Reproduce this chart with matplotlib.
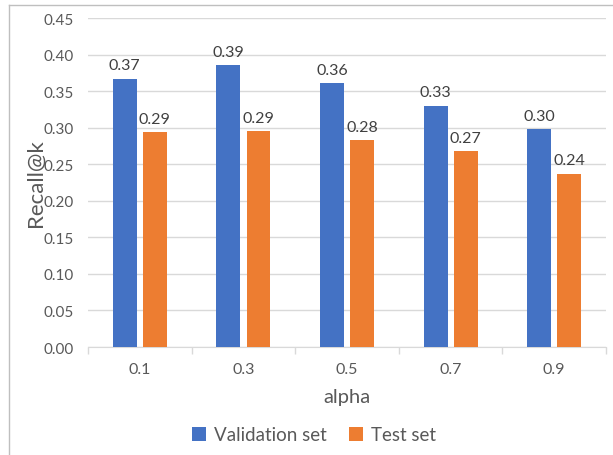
import numpy as np
import matplotlib.pyplot as plt
from matplotlib.lines import Line2D

plt.rcParams['font.family'] = ['Lato', 'DejaVu Sans']

alphas = ['0.1', '0.3', '0.5', '0.7', '0.9']
val_set = [0.367, 0.386, 0.361, 0.330, 0.298]
test_set = [0.294, 0.295, 0.283, 0.268, 0.237]
val_labels = ['0.37', '0.39', '0.36', '0.33', '0.30']
test_labels = ['0.29', '0.29', '0.28', '0.27', '0.24']

blue = '#4472C4'
orange = '#ED7D31'
txt = '#404040'

fig = plt.figure(figsize=(6.13, 4.56), dpi=100)
ax_w, ax_h = 0.845, 0.7215
ax = fig.add_axes([0.1436, 0.2368, ax_w, ax_h])

x = np.arange(len(alphas))
w = 0.23
gap = 0.03
b1 = ax.bar(x - w / 2 - gap, val_set, w, color=blue, label='Validation set', zorder=3)
b2 = ax.bar(x + w / 2 + gap, test_set, w, color=orange, label='Test set', zorder=3)

# data labels
for bars, labs in [(b1, val_labels), (b2, test_labels)]:
    for b, lab in zip(bars, labs):
        ax.annotate(lab, (b.get_x() + b.get_width() / 2, b.get_height()),
                    xytext=(0, 4.5), textcoords='offset points', ha='center', va='bottom',
                    fontsize=11.5, color=txt)

ax.set_xlim(-0.5, len(alphas) - 0.5)
ax.set_ylim(0, 0.45)
yt = np.arange(0, 0.451, 0.05)
ax.set_yticks(yt)
ax.set_yticklabels(['%.2f' % v for v in yt])
ax.yaxis.grid(True, color='#D9D9D9', linewidth=1, zorder=0)
ax.tick_params(axis='y', length=0, labelsize=11, labelcolor='#595959', pad=10)

# category labels in the middle, ticks at the boundaries
ax.set_xticks(x)
ax.set_xticklabels(alphas)
ax.tick_params(axis='x', which='major', length=0, labelsize=11.5, labelcolor='#595959', pad=11)
ax.set_xticks(np.arange(-0.5, len(alphas)), minor=True)
ax.tick_params(axis='x', which='minor', length=5, color='#D9D9D9', width=1)

for s in ['top', 'right', 'left']:
    ax.spines[s].set_visible(False)
ax.spines['bottom'].set_color('#D9D9D9')

ax.set_ylabel('Recall@k', fontsize=16, color='#595959', va='center')
ax.yaxis.set_label_coords((36 - 88) / (ax_w * 613), 0.5)
ax.set_xlabel('alpha', fontsize=14.5, color='#595959', va='center')
ax.xaxis.set_label_coords(0.5, (348 - 397) / (ax_h * 456))

fig.legend(handles=[b1, b2], loc='center', bbox_to_anchor=(314 / 613, 1 - 436 / 456), ncol=2,
           frameon=False, fontsize=13.5, labelcolor='#595959', handlelength=0.75,
           handleheight=0.75, columnspacing=1.2, handletextpad=0.4)

# chart frame (cropped on the right and bottom)
fx = 8.5 / 613
fy = 1 - 5.5 / 456
fig.add_artist(Line2D([fx, fx], [0, fy], transform=fig.transFigure, color='#BFBFBF', lw=1))
fig.add_artist(Line2D([fx, 1], [fy, fy], transform=fig.transFigure, color='#BFBFBF', lw=1))

fig.savefig('out.png', dpi=100)
